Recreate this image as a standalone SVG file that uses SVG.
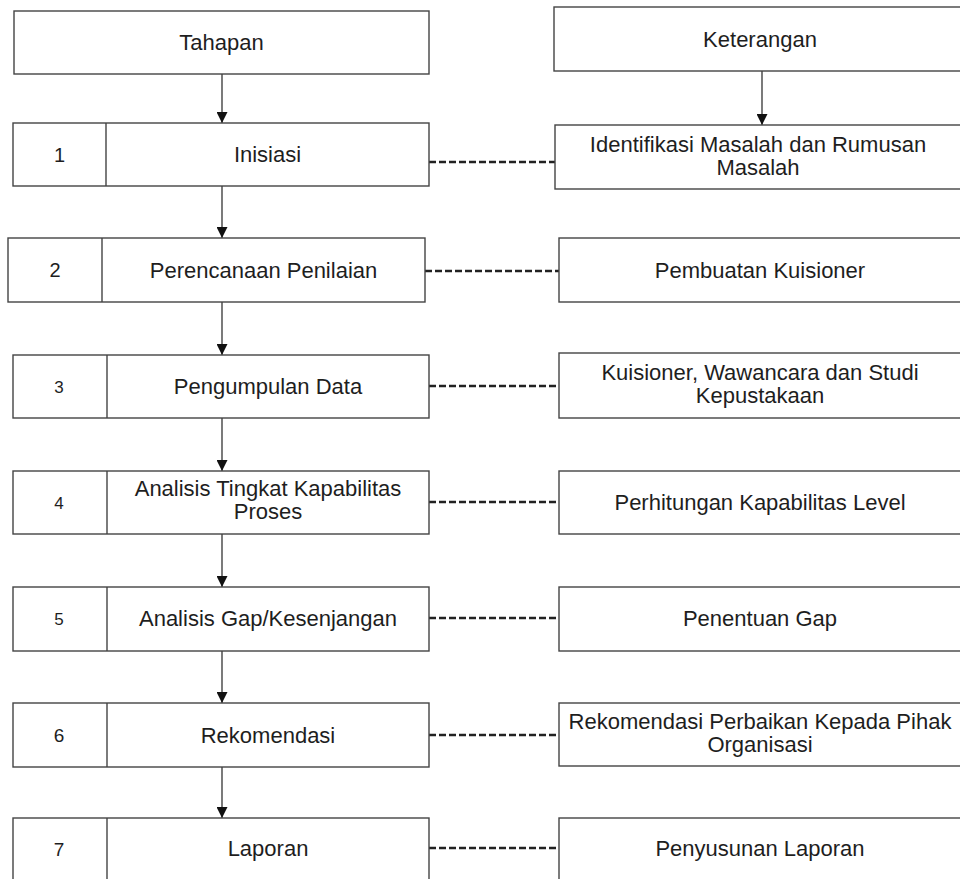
<svg xmlns="http://www.w3.org/2000/svg" width="960" height="879" viewBox="0 0 960 879">
<defs>
<style>
.box{fill:#fff;stroke:#444;stroke-width:1.4}
.div{stroke:#444;stroke-width:1.4}
.t{font-family:"Liberation Sans",Arial,sans-serif;font-size:22px;fill:#1e1e1e;text-anchor:middle}
.n{font-family:"Liberation Sans",Arial,sans-serif;fill:#1e1e1e;text-anchor:middle}
.arr{stroke:#333;stroke-width:1.3;fill:none;marker-end:url(#ah)}
.dash{stroke:#222;stroke-width:2.4;stroke-dasharray:7 3;fill:none}
</style>
<marker id="ah" markerWidth="11" markerHeight="11" refX="11" refY="5.5" orient="auto" markerUnits="userSpaceOnUse">
<path d="M0,0 L11,5.5 L0,11 Z" fill="#111"/>
</marker>
</defs>
<rect width="960" height="879" fill="#fff"/>

<g id="connectors">
<line class="arr" x1="222" y1="74" x2="222" y2="123"/>
<line class="arr" x1="762" y1="71" x2="762" y2="125"/>
<line class="arr" x1="222" y1="186" x2="222" y2="238"/>
<line class="arr" x1="222" y1="302" x2="222" y2="355"/>
<line class="arr" x1="222" y1="418" x2="222" y2="471"/>
<line class="arr" x1="222" y1="534" x2="222" y2="587"/>
<line class="arr" x1="222" y1="651" x2="222" y2="703"/>
<line class="arr" x1="222" y1="767" x2="222" y2="818"/>
<line class="dash" x1="429" y1="162" x2="555" y2="162"/>
<line class="dash" x1="425" y1="271" x2="559" y2="271"/>
<line class="dash" x1="429" y1="386" x2="559" y2="386"/>
<line class="dash" x1="429" y1="502" x2="559" y2="502"/>
<line class="dash" x1="429" y1="618" x2="559" y2="618"/>
<line class="dash" x1="429" y1="735" x2="559" y2="735"/>
<line class="dash" x1="429" y1="848" x2="559" y2="848"/>
</g>

<g id="tahapan">
<rect class="box" x="14" y="11" width="415" height="63"/>
<text class="t" x="221.5" y="50">Tahapan</text>
</g>
<g id="keterangan">
<rect class="box" x="554" y="7" width="410" height="64"/>
<text class="t" x="760" y="47">Keterangan</text>
</g>

<g id="step1">
<rect class="box" x="13" y="123" width="416" height="63"/>
<line class="div" x1="106" y1="123" x2="106" y2="186"/>
<text class="n" x="59.5" y="162" font-size="20">1</text>
<text class="t" x="267.5" y="162">Inisiasi</text>
</g>
<g id="ket1">
<rect class="box" x="555" y="125" width="410" height="64"/>
<text class="t" x="758" y="152">Identifikasi Masalah dan Rumusan</text>
<text class="t" x="758" y="175">Masalah</text>
</g>

<g id="step2">
<rect class="box" x="8" y="238" width="417" height="64"/>
<line class="div" x1="102" y1="238" x2="102" y2="302"/>
<text class="n" x="55" y="277" font-size="20">2</text>
<text class="t" x="263.5" y="277.5">Perencanaan Penilaian</text>
</g>
<g id="ket2">
<rect class="box" x="559" y="238" width="406" height="64"/>
<text class="t" x="760" y="277.5">Pembuatan Kuisioner</text>
</g>

<g id="step3">
<rect class="box" x="13" y="355" width="416" height="63"/>
<line class="div" x1="107" y1="355" x2="107" y2="418"/>
<text class="n" x="59" y="393" font-size="17">3</text>
<text class="t" x="268" y="394">Pengumpulan Data</text>
</g>
<g id="ket3">
<rect class="box" x="559" y="353" width="406" height="65"/>
<text class="t" x="760" y="380">Kuisioner, Wawancara dan Studi</text>
<text class="t" x="760" y="403">Kepustakaan</text>
</g>

<g id="step4">
<rect class="box" x="13" y="471" width="416" height="63"/>
<line class="div" x1="107" y1="471" x2="107" y2="534"/>
<text class="n" x="59" y="509" font-size="17">4</text>
<text class="t" x="268" y="496">Analisis Tingkat Kapabilitas</text>
<text class="t" x="268" y="519">Proses</text>
</g>
<g id="ket4">
<rect class="box" x="559" y="471" width="406" height="63"/>
<text class="t" x="760" y="510">Perhitungan Kapabilitas Level</text>
</g>

<g id="step5">
<rect class="box" x="13" y="587" width="416" height="64"/>
<line class="div" x1="107" y1="587" x2="107" y2="651"/>
<text class="n" x="59" y="625" font-size="17">5</text>
<text class="t" x="268" y="626">Analisis Gap/Kesenjangan</text>
</g>
<g id="ket5">
<rect class="box" x="559" y="587" width="406" height="64"/>
<text class="t" x="760" y="626">Penentuan Gap</text>
</g>

<g id="step6">
<rect class="box" x="13" y="703" width="416" height="64"/>
<line class="div" x1="107" y1="703" x2="107" y2="767"/>
<text class="n" x="59" y="742" font-size="19">6</text>
<text class="t" x="268" y="742.5">Rekomendasi</text>
</g>
<g id="ket6">
<rect class="box" x="559" y="703" width="406" height="63"/>
<text class="t" x="760" y="729">Rekomendasi Perbaikan Kepada Pihak</text>
<text class="t" x="760" y="752">Organisasi</text>
</g>

<g id="step7">
<rect class="box" x="13" y="818" width="416" height="70"/>
<line class="div" x1="107" y1="818" x2="107" y2="888"/>
<text class="n" x="59" y="856" font-size="19">7</text>
<text class="t" x="268" y="856">Laporan</text>
</g>
<g id="ket7">
<rect class="box" x="559" y="818" width="406" height="70"/>
<text class="t" x="760" y="856">Penyusunan Laporan</text>
</g>
</svg>
